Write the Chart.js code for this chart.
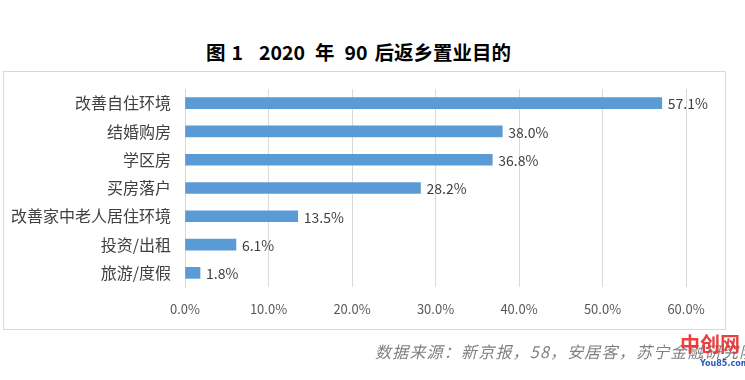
<!DOCTYPE html>
<html>
<head>
<meta charset="utf-8">
<script src="https://cdn.jsdelivr.net/npm/chart.js@4/dist/chart.umd.min.js"></script>
<style>
  html, body { margin: 0; padding: 0; background: #fff; }
  body { width: 745px; height: 380px; position: relative; overflow: hidden; font-family: "Noto Sans CJK SC", sans-serif; }
  #title { position: absolute; left: 206px; top: 38px; font-size: 19.5px; font-weight: bold; color: #000; white-space: nowrap; line-height: 28px; }
  #title span { display: inline-block; }
  #box { position: absolute; left: 3px; top: 71px; width: 721px; height: 257px; border: 1px solid #d9d9d9; }
  #wrap { position: absolute; left: 0; top: 0; width: 745px; height: 380px; }
  #source { position: absolute; left: 375px; top: 340px; font-size: 16px; letter-spacing: 1.2px; font-style: italic; color: #7f7f7f; white-space: nowrap; line-height: 22px; }
  #wm { position: absolute; left: 680px; top: 329px; font-size: 20px; font-weight: bold; color: #e8312f; opacity: 0.92; white-space: nowrap; }
  #wm2 { position: absolute; left: 700px; top: 359px; font-size: 8px; font-weight: bold; color: #2a5bb5; white-space: nowrap; font-family: "DejaVu Sans", sans-serif; }
</style>
</head>
<body>
<div id="title"><span>图</span><span style="margin-left:6px">1</span><span style="margin-left:16px">2020</span><span style="margin-left:10px">年</span><span style="margin-left:10px">90</span><span style="margin-left:7px">后返乡置业目的</span></div>
<div id="box"></div>
<div id="wrap"><canvas id="c" width="745" height="380"></canvas></div>
<div id="source">数据来源：新京报，58，安居客，苏宁金融研究院</div>
<div id="wm">中创网</div>
<div id="wm2">You85.com</div>
<script>
const categories = ["改善自住环境", "结婚购房", "学区房", "买房落户", "改善家中老人居住环境", "投资/出租", "旅游/度假"];
const values = [57.1, 38.0, 36.8, 28.2, 13.5, 6.1, 1.8];
const tickValues = [0, 10, 20, 30, 40, 50, 60];

const labelPlugin = {
  id: 'barLabels',
  afterDatasetsDraw(chart) {
    const ctx = chart.ctx;
    const meta = chart.getDatasetMeta(0);
    ctx.save();
    ctx.font = '14px "Noto Sans CJK SC", sans-serif';
    ctx.fillStyle = '#404040';
    ctx.textAlign = 'left';
    ctx.textBaseline = 'middle';
    meta.data.forEach((bar, i) => {
      ctx.fillText(values[i].toFixed(1) + '%', bar.x + 6, bar.y + 1);
    });
    ctx.restore();
  }
};

new Chart(document.getElementById('c'), {
  type: 'bar',
  data: {
    labels: categories,
    datasets: [{
      data: values,
      backgroundColor: '#5b9bd5',
      borderWidth: 0,
      barThickness: 11
    }]
  },
  options: {
    indexAxis: 'y',
    responsive: false,
    animation: false,
    devicePixelRatio: 1,
    layout: { padding: { left: 0, right: 59, top: 89, bottom: 63 } },
    plugins: { legend: { display: false }, tooltip: { enabled: false } },
    scales: {
      x: {
        min: 0, max: 60,
        afterBuildTicks(axis) { axis.ticks = tickValues.map(v => ({ value: v })); },
        afterFit(axis) { axis.height = 30; },
        grid: { color: '#d9d9d9', drawTicks: false, lineWidth: 1 },
        border: { display: false },
        ticks: {
          padding: 14,
          color: '#595959',
          font: { size: 13, family: '"Noto Sans CJK SC", sans-serif' },
          callback: v => v.toFixed(1) + '%',
          maxRotation: 0
        }
      },
      y: {
        afterFit(axis) { axis.width = 185; },
        grid: { display: false, drawTicks: false },
        border: { display: true, color: '#d9d9d9' },
        ticks: {
          padding: 14,
          color: '#404040',
          font: { size: 16, family: '"Noto Sans CJK SC", sans-serif' }
        }
      }
    }
  },
  plugins: [labelPlugin]
});
</script>
</body>
</html>
